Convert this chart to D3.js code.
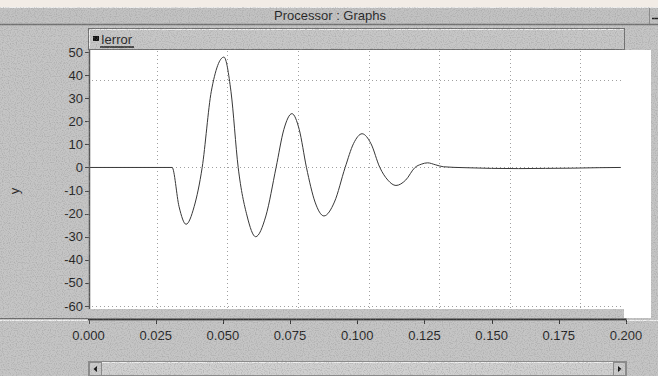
<!DOCTYPE html>
<html>
<head>
<meta charset="utf-8">
<script src="https://cdn.jsdelivr.net/npm/d3@7"></script>
<style>
    body { margin: 0; background: #c5c5c5; }
    svg { display: block; font-family: "Liberation Sans", Arial, sans-serif; }
</style>
</head>
<body>
<svg id="grafico" width="658" height="376"></svg>
<script>
// sinal (tempo em s, erro)
var tempo = [0, 0.0311, 0.0337, 0.0363, 0.0393, 0.0423, 0.0457, 0.0504, 0.0530, 0.0557,
    0.0590, 0.0622, 0.0660, 0.0698, 0.0727, 0.0757, 0.0784, 0.0811, 0.0843, 0.0876,
    0.0915, 0.0955, 0.0986, 0.1018, 0.1051, 0.1084, 0.1114, 0.1144, 0.1180, 0.1215,
    0.1238, 0.1262, 0.1290, 0.1320, 0.140, 0.150, 0.160, 0.170, 0.180, 0.190, 0.198];
var erro = [0, 0, -17, -24.6, -17, 0, 33, 47.8, 33, 0,
    -21, -30, -21, 0, 16.5, 23.3, 16.5, 0, -15, -21,
    -15, 0, 10.3, 14.6, 10.3, 0, -5.5, -7.8, -5.5, 0,
    1.4, 2.0, 1.2, 0.3, -0.1, -0.4, -0.5, -0.4, -0.3, -0.1, 0];

var xTicks = [0, 0.025, 0.05, 0.075, 0.1, 0.125, 0.15, 0.175, 0.2];
var yTicks = [50, 40, 30, 20, 10, 0, -10, -20, -30, -40, -50, -60];
var gradeX = [0.025, 0.05, 0.075, 0.1, 0.125, 0.15, 0.175];
var gradeY = [38, 0, -60];
var serieNome = "Ierror";
var titulo = "Processor : Graphs";
var eixoY = "y";

var svg = d3.select("#grafico");
var defs = svg.append("defs");

// ruido da imagem original
var filtro = defs.append("filter").attr("id", "ruido").attr("x", 0).attr("y", 0).attr("width", "100%").attr("height", "100%");
filtro.append("feTurbulence").attr("type", "fractalNoise").attr("baseFrequency", 0.85).attr("numOctaves", 1).attr("seed", 3);
filtro.append("feColorMatrix").attr("type", "matrix")
    .attr("values", "0 0 0 0 0.3  0 0 0 0 0.3  0 0 0 0 0.3  0 0 0 -3.2 1.75");
defs.append("clipPath").attr("id", "foraPlot").append("path")
    .attr("clip-rule", "evenodd")
    .attr("d", "M0,0H658V376H0Z M90,50V309H624V318H651V50Z");

var x = d3.scaleLinear().domain([0, 0.2]).range([88.5, 626]);
var xGrade = d3.scaleLinear().domain([0, 0.2]).range([86, 651]);
var y = d3.scaleLinear().domain([-60, 50]).range([306, 52]);

// faixa de cima
svg.append("rect").attr("x", 0).attr("y", 0).attr("width", 658).attr("height", 7).attr("fill", "#f2ece6");
svg.append("rect").attr("x", 0).attr("y", 7).attr("width", 658).attr("height", 17).attr("fill", "#c2c2c2");
svg.append("line").attr("x1", 0).attr("x2", 658).attr("y1", 7.5).attr("y2", 7.5).attr("stroke", "#eeeeee");
svg.append("line").attr("x1", 0).attr("x2", 658).attr("y1", 24.5).attr("y2", 24.5).attr("stroke", "#707070").attr("stroke-width", 1.5);
svg.append("text").attr("x", 330).attr("y", 20).attr("text-anchor", "middle")
    .attr("font-size", 13).attr("fill", "#1e1e1e").text(titulo);
svg.append("line").attr("x1", 649.5).attr("x2", 649.5).attr("y1", 8).attr("y2", 24).attr("stroke", "#8a8a8a");
svg.append("line").attr("x1", 652).attr("x2", 658).attr("y1", 18.5).attr("y2", 18.5).attr("stroke", "#222").attr("stroke-width", 1.5);

// barra da legenda
svg.append("rect").attr("x", 88.5).attr("y", 28.5).attr("width", 536).attr("height", 21)
    .attr("fill", "#c7c7c7").attr("stroke", "#6e6e6e");
svg.append("path").attr("d", "M89.5,48.5V29.5H623.5").attr("fill", "none").attr("stroke", "#f0f0f0");
svg.append("rect").attr("x", 93).attr("y", 36).attr("width", 6).attr("height", 5).attr("fill", "#111");
svg.append("text").attr("x", 101).attr("y", 44).attr("font-size", 13).attr("fill", "#1e1e1e").text(serieNome);
svg.append("line").attr("x1", 100).attr("x2", 134).attr("y1", 47).attr("y2", 47).attr("stroke", "#1e1e1e").attr("stroke-width", 1.5);

// area branca do grafico
svg.append("rect").attr("x", 90).attr("y", 50).attr("width", 561).attr("height", 268).attr("fill", "#ffffff");
svg.append("rect").attr("x", 90).attr("y", 309).attr("width", 534).attr("height", 9).attr("fill", "#c6c6c6");

// grade pontilhada
svg.append("g").selectAll("line").data(gradeX).enter().append("line")
    .attr("x1", function (d) { return Math.round(xGrade(d)) + 0.5; })
    .attr("x2", function (d) { return Math.round(xGrade(d)) + 0.5; })
    .attr("y1", 51).attr("y2", 308)
    .attr("stroke", "#a0a0a0").attr("stroke-dasharray", "1,3");
svg.append("g").selectAll("line").data(gradeY).enter().append("line")
    .attr("x1", 92).attr("x2", 624)
    .attr("y1", function (d) { return Math.round(y(d)) + 0.5; })
    .attr("y2", function (d) { return Math.round(y(d)) + 0.5; })
    .attr("stroke", "#a0a0a0").attr("stroke-dasharray", "1,3");

// curva
var linha = d3.line()
    .x(function (d, i) { return x(tempo[i]); })
    .y(function (d) { return y(d); })
    .curve(d3.curveMonotoneX);
svg.append("path").datum(erro).attr("d", linha)
    .attr("fill", "none").attr("stroke", "#383838").attr("stroke-width", 1);

// eixo y
svg.append("line").attr("x1", 89.5).attr("x2", 89.5).attr("y1", 50).attr("y2", 309).attr("stroke", "#555").attr("stroke-width", 1.5);
var gy = svg.append("g");
gy.selectAll("line").data(yTicks).enter().append("line")
    .attr("x1", 85).attr("x2", 89)
    .attr("y1", function (d) { return Math.round(y(d)) + 0.5; })
    .attr("y2", function (d) { return Math.round(y(d)) + 0.5; })
    .attr("stroke", "#444");
gy.selectAll("text").data(yTicks).enter().append("text")
    .attr("x", 83).attr("y", function (d) { return y(d) + 4.5; })
    .attr("text-anchor", "end").attr("font-size", 13).attr("fill", "#1e1e1e")
    .text(function (d) { return d; });
svg.append("text").attr("transform", "translate(19,191) rotate(-90)")
    .attr("text-anchor", "middle").attr("font-size", 13).attr("fill", "#1e1e1e").text(eixoY);

// eixo x
svg.append("line").attr("x1", 0).attr("x2", 88).attr("y1", 318.5).attr("y2", 318.5).attr("stroke", "#6a6a6a");
svg.append("line").attr("x1", 0).attr("x2", 658).attr("y1", 320.5).attr("y2", 320.5).attr("stroke", "#f2f2f2");
svg.append("line").attr("x1", 88).attr("x2", 626.5).attr("y1", 319.5).attr("y2", 319.5).attr("stroke", "#333").attr("stroke-width", 2);
var gx = svg.append("g");
gx.selectAll("line").data(xTicks).enter().append("line")
    .attr("x1", function (d) { return Math.round(x(d)) + 0.5; })
    .attr("x2", function (d) { return Math.round(x(d)) + 0.5; })
    .attr("y1", 320).attr("y2", 324)
    .attr("stroke", "#333");
gx.selectAll("text").data(xTicks).enter().append("text")
    .attr("x", function (d) { return x(d); }).attr("y", 340)
    .attr("text-anchor", "middle").attr("font-size", 13).attr("fill", "#1e1e1e")
    .text(function (d) { return d3.format(".3f")(d); });

// barra de rolagem
svg.append("rect").attr("x", 88.5).attr("y", 361.5).attr("width", 538).attr("height", 14)
    .attr("fill", "#d0d0d0").attr("stroke", "#8a8a8a");
svg.append("line").attr("x1", 89).attr("x2", 626).attr("y1", 362.5).attr("y2", 362.5).attr("stroke", "#f0f0f0");
svg.append("rect").attr("x", 89.5).attr("y", 362.5).attr("width", 12).attr("height", 13).attr("fill", "#cbcbcb").attr("stroke", "#8a8a8a");
svg.append("rect").attr("x", 613.5).attr("y", 362.5).attr("width", 12).attr("height", 13).attr("fill", "#cbcbcb").attr("stroke", "#8a8a8a");
svg.append("path").attr("d", "M97,366L93.5,369L97,372Z").attr("fill", "#111");
svg.append("path").attr("d", "M618,366L621.5,369L618,372Z").attr("fill", "#111");

// textura por cima do cinza
svg.append("rect").attr("x", 0).attr("y", 7).attr("width", 658).attr("height", 369)
    .attr("clip-path", "url(#foraPlot)").attr("filter", "url(#ruido)").attr("opacity", 0.45);
</script>
</body>
</html>
